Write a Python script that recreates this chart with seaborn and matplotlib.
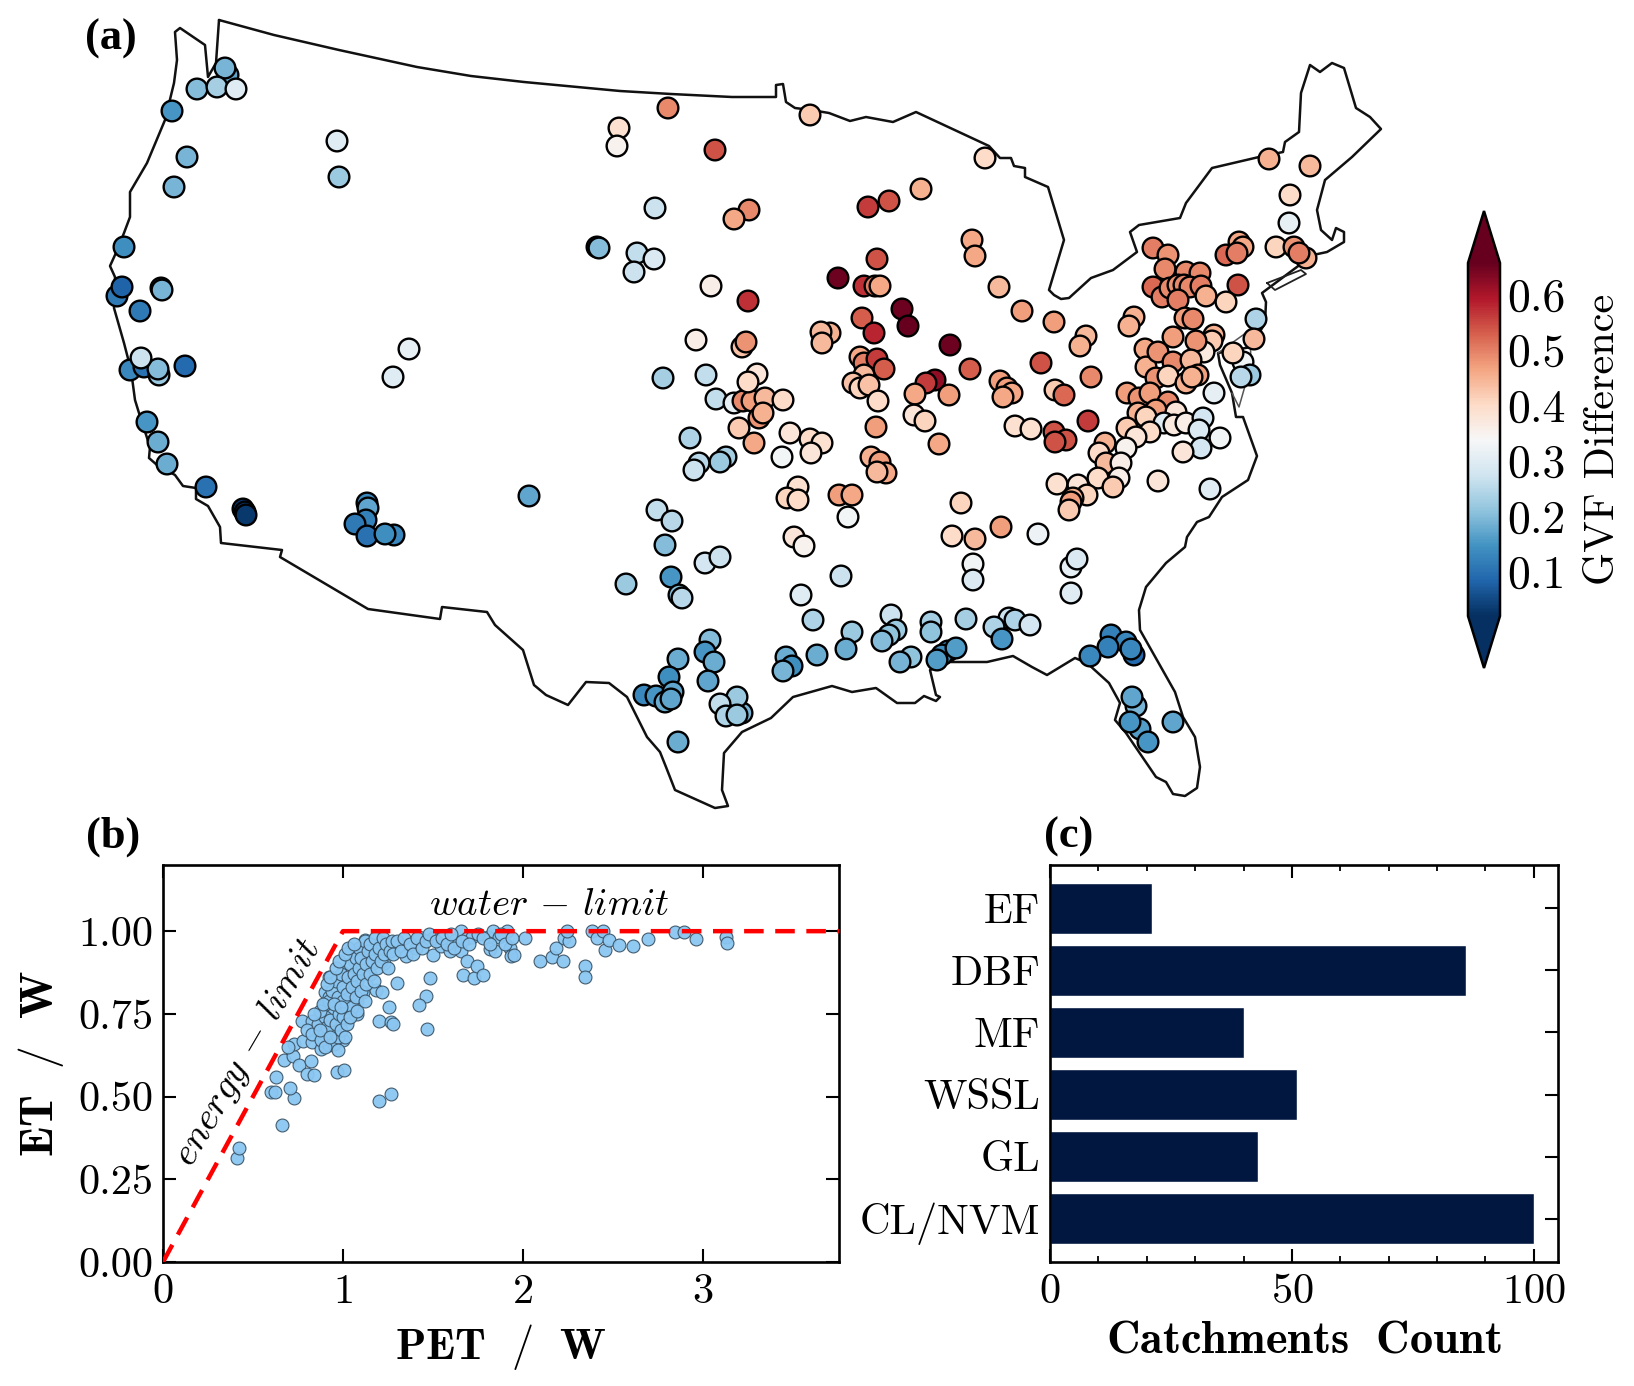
import numpy as np
import pandas as pd
import matplotlib
matplotlib.use('Agg')
import matplotlib.pyplot as plt
import seaborn as sns
from matplotlib.cm import ScalarMappable
from matplotlib.colors import Normalize
from matplotlib.ticker import FixedLocator

# map units: projected position
border_x = [219, 274, 339, 417, 471, 524, 620, 671, 732, 776, 776, 783, 786, 795, 811, 829, 850, 866, 893, 916, 989, 1000,
            1011, 1014, 1025, 1025, 1048, 1064, 1049, 1054, 1061, 1069, 1091, 1113, 1137, 1130, 1139, 1180, 1186, 1212, 1259, 1283,
            1285, 1299, 1301, 1310, 1320, 1332, 1344, 1356, 1370, 1381, 1352, 1325, 1317, 1321, 1332, 1336, 1344, 1344, 1327, 1313,
            1262, 1266, 1265, 1251, 1218, 1220, 1232, 1236, 1243, 1257, 1248, 1222, 1209, 1197, 1187, 1185, 1166, 1146, 1139, 1140,
            1175, 1183, 1195, 1200, 1197, 1185, 1173, 1166, 1156, 1126, 1115, 1120, 1109, 1087, 1075, 1047, 1032, 1013, 987, 950,
            930, 936, 940, 936, 924, 915, 897, 876, 852, 832, 793, 771, 742, 724, 722, 728, 715, 675, 666, 660,
            647, 627, 609, 586, 568, 546, 534, 523, 495, 487, 442, 440, 368, 280, 282, 221, 220, 208, 196, 196,
            183, 175, 157, 149, 150, 139, 135, 131, 124, 114, 115, 110, 115, 124, 130, 130, 147, 165, 174, 177,
            175, 180, 205, 208, 216, 219]
border_y = [20, 35, 50, 67, 76, 82, 91, 94, 97, 97, 85, 84, 102, 108, 110, 113, 121, 117, 122, 112, 146, 158,
            158, 166, 168, 177, 187, 240, 290, 295, 299, 298, 278, 270, 252, 232, 225, 218, 203, 168, 157, 152,
            142, 132, 93, 65, 72, 63, 68, 108, 117, 129, 157, 180, 210, 230, 240, 228, 232, 242, 252, 255,
            293, 302, 323, 347, 353, 365, 393, 417, 417, 456, 480, 497, 517, 522, 537, 547, 563, 587, 610, 630,
            692, 717, 737, 767, 788, 796, 794, 782, 777, 733, 720, 703, 683, 663, 658, 675, 667, 656, 662, 662,
            670, 695, 697, 701, 696, 703, 703, 688, 692, 686, 697, 718, 732, 753, 790, 806, 808, 790, 767, 752,
            737, 697, 683, 682, 705, 695, 685, 650, 625, 612, 607, 619, 609, 557, 550, 543, 527, 506, 499, 488,
            486, 475, 465, 458, 447, 413, 400, 370, 343, 308, 277, 266, 255, 233, 217, 192, 163, 120, 83, 60,
            32, 28, 45, 77, 63, 20]
island_x = [1267, 1301, 1306, 1275, 1267]
island_y = [283, 270, 274, 290, 283]
bay_x = [1218, 1250, 1251, 1239, 1232]
bay_y = [353, 330, 365, 407, 393]

site_x = [228, 225, 197, 217, 236, 172, 187, 174, 337, 339,
          597, 599, 124, 117, 122, 161, 162, 140, 185, 130,
          144, 159, 158, 141, 409, 393, 147, 158, 167, 206,
          243, 245, 246, 367, 368, 366, 355, 367, 394, 385,
          529, 657, 672, 665, 626, 671, 679, 682,
          668, 619, 617, 810, 715, 985, 921, 889, 868, 749,
          734, 655, 637, 654, 634, 972, 975, 877, 838, 864,
          875, 880, 711, 748, 999, 1022, 1054, 1134, 1129, 862,
          902, 908, 874, 950, 1086, 1080, 1041, 970, 1091, 830,
          821, 822, 696, 742, 746, 663, 706, 860, 864, 877,
          884, 864, 853, 860, 869, 878, 935, 926, 915, 949,
          1000, 1007, 1012, 1003, 1055, 1064, 1127, 1145, 1146, 1088,
          1015, 1031, 1054, 1066, 1055, 914, 925, 939, 876, 716,
          734, 743, 752, 757, 748, 765, 783, 759, 763, 739,
          754, 690, 790, 810, 822, 811, 782, 726, 720, 699,
          694, 871, 880, 886, 877, 1269, 1310, 1290, 1289, 1276,
          1294, 1306, 1299, 1153, 1168, 1239, 1243, 1226, 1237, 1165,
          1153, 1186, 1200, 1162, 1170, 1178, 1184, 1190, 1201, 1178,
          1206, 1238, 1226, 1256, 1254, 1243, 1233, 1250, 1241, 1214,
          1185, 1193, 1173, 1214, 1212, 1204, 1196, 1158, 1173, 1191,
          1156, 1168, 1186, 1198, 1192, 1139, 1150, 1168, 1156, 1138,
          1146, 1176, 1164, 1174, 1186, 1203, 1199, 1220, 1201, 1183,
          1150, 1127, 1136, 1126, 1105, 1099, 1106, 1121, 1098, 1119,
          1113, 1057, 1078, 1087, 1073, 1071, 1069, 1158, 1210, 961,
          1001, 952, 975, 1038, 1071, 1077, 973, 973, 1071, 798,
          787, 798, 839, 852, 848, 794, 804, 705, 720, 841,
          801, 813, 852, 891, 896, 889, 882, 931, 931, 966,
          1009, 1015, 994, 1030, 1002, 1111, 1126, 1134, 1108, 1131,
          1090, 948, 942, 956, 937, 911, 900, 846, 817, 786,
          792, 783, 710, 705, 714, 678, 708, 669, 644, 656,
          673, 665, 671, 742, 737, 720, 726, 737, 678, 1136,
          1132, 1140, 1130, 1148, 1173]
site_y = [75, 68, 89, 87, 89, 111, 157, 187, 141, 177,
          247, 248, 247, 296, 287, 288, 290, 311, 366, 370,
          367, 375, 369, 358, 349, 377, 422, 442, 464, 487,
          509, 512, 515, 503, 508, 520, 524, 536, 535, 534,
          496, 510, 521, 545, 584, 577, 595, 598,
          108, 128, 146, 115, 150, 158, 189, 201, 207, 210,
          219, 208, 253, 259, 272, 240, 256, 259, 278, 286,
          286, 286, 286, 301, 287, 311, 322, 317, 326, 318,
          309, 326, 333, 345, 336, 346, 363, 369, 377, 333,
          332, 343, 340, 347, 342, 378, 375, 357, 363, 359,
          369, 375, 383, 388, 385, 401, 380, 383, 394, 395,
          381, 388, 393, 397, 390, 395, 393, 349, 367, 421,
          426, 429, 432, 440, 442, 415, 421, 444, 427, 399,
          403, 401, 401, 374, 382, 398, 400, 418, 413, 428,
          443, 438, 433, 439, 443, 453, 457, 457, 462, 463,
          470, 457, 462, 473, 472, 159, 166, 195, 223, 247,
          247, 258, 253, 248, 255, 242, 247, 255, 253, 269,
          287, 272, 273, 297, 288, 285, 285, 287, 286, 300,
          296, 285, 302, 319, 339, 362, 353, 375, 377, 393,
          318, 319, 337, 335, 341, 352, 341, 352, 362, 360,
          378, 376, 383, 375, 377, 398, 393, 402, 410, 413,
          417, 412, 423, 425, 423, 418, 430, 438, 448, 452,
          432, 428, 437, 448, 443, 453, 463, 463, 478, 478,
          487, 484, 485, 495, 498, 502, 510, 481, 489, 503,
          527, 536, 539, 534, 567, 559, 564, 580, 593, 487,
          498, 500, 495, 495, 517, 537, 546, 563, 557, 576,
          595, 620, 632, 615, 630, 635, 641, 622, 632, 619,
          618, 620, 627, 625, 639, 635, 642, 655, 647, 649,
          656, 651, 655, 648, 660, 657, 662, 649, 655, 657,
          666, 671, 640, 652, 662, 659, 681, 677, 695, 696,
          692, 702, 699, 713, 697, 704, 716, 715, 742, 706,
          697, 729, 722, 742, 722]
site_gvf = [.17, .19, .2, .23, .3, .15, .19, .19, .3, .22,
            .05, .2, .14, .11, .08, .1, .19, .11, .09, .13,
            .1, .22, .2, .27, .31, .3, .15, .18, .18, .1,
            .03, .03, .03, .13, .17, .12, .11, .1, .13, .14,
            .17, .26, .25, .2, .22, .15, .2, .25,
            .49, .39, .35, .42, .54, .4, .45, .54, .56, .49,
            .46, .27, .26, .29, .27, .46, .46, .54, .65, .57,
            .5, .46, .36, .57, .44, .47, .47, .45, .45, .53,
            .65, .66, .58, .65, .44, .45, .54, .53, .49, .45,
            .44, .44, .36, .43, .48, .23, .26, .46, .5, .56,
            .53, .44, .43, .41, .43, .4, .62, .56, .46, .47,
            .47, .47, .46, .46, .42, .52, .47, .46, .45, .56,
            .39, .39, .54, .54, .54, .38, .41, .46, .47, .26,
            .31, .49, .47, .38, .4, .44, .4, .48, .45, .42,
            .46, .24, .38, .4, .39, .38, .33, .23, .22, .25,
            .27, .45, .47, .46, .44, .45, .44, .4, .31, .41,
            .48, .45, .5, .5, .48, .46, .46, .52, .5, .49,
            .52, .49, .49, .5, .49, .48, .49, .49, .5, .5,
            .45, .54, .41, .24, .44, .33, .41, .22, .25, .31,
            .47, .49, .47, .45, .42, .37, .48, .48, .49, .44,
            .48, .41, .45, .47, .45, .48, .47, .49, .47, .45,
            .41, .38, .3, .37, .36, .28, .29, .33, .28, .38,
            .4, .42, .38, .35, .45, .4, .44, .36, .4, .36,
            .42, .39, .38, .41, .45, .47, .42, .38, .3, .41,
            .47, .4, .44, .32, .31, .29, .33, .29, .3, .39,
            .41, .4, .47, .46, .33, .38, .35, .28, .27, .27,
            .3, .24, .22, .27, .22, .21, .2, .23, .21, .23,
            .27, .24, .24, .28, .15, .12, .13, .09, .12, .13,
            .13, .14, .14, .16, .16, .21, .19, .18, .18, .18,
            .14, .19, .2, .15, .18, .18, .17, .14, .13, .15,
            .17, .18, .17, .19, .22, .26, .24, .22, .18, .19,
            .17, .16, .15, .15, .17]

pet = [.41, .425, .66, .73, .705, .6, .62, .626, .675, .72, .757, .82, .8, .84, .965, 1.005, 1.2, 1.265,
       .73, .696, .77, .827, .778, .85, .83, .88, .92, 1.0, .918, .955, .894, .99, .94, .894, .9, .924,
       1.076, 1.03, .985, 1.076, 1.045, 1.11, 1.045, .985, .924, 1.0, 1.076, 1.137, 1.06, 1.167, 1.228, 1.106, 1.045, 1.12,
       1.213, 1.198, 1.304, 1.35, 1.404, 1.425, 1.5, 1.5, 1.547, 1.593, 1.623, 1.654, 1.654, 1.69, 1.69, 1.669, 1.73, 1.745,
       1.78, 1.72, 1.805, 1.815, 1.845, 1.836, 1.912, 1.866, 1.927, 1.933, 1.95, 2.01, 2.094, 2.164, 2.185, 2.222, 2.23, 2.255,
       2.246, 2.383, 2.343, 2.343, 2.413, 2.444, 2.459, 2.48, 2.535, 2.61, 2.693, 2.845, 2.893, 2.964, 3.13, 3.134,
       1.182, 1.219, 1.298, 1.486, 1.462, 1.42, 1.465, 1.258, 1.198, 1.265, 1.277,
       .8, .83, .86, .88, .9, .91, .93, .95, .96, .97, .98, .99, 1.0, 1.01, 1.02, .92, .94, .96,
       .97, .99, 1.0, 1.0, 1.02, 1.03, 1.04, 1.05, 1.05, 1.06, 1.07, 1.07, 1.08, 1.09, 1.09, 1.1, 1.1, 1.11,
       1.12, 1.13, 1.13, 1.14, 1.15, 1.15, 1.16, 1.17, 1.18, 1.18, 1.19, 1.2, 1.21, 1.22, 1.23, 1.24, 1.25, 1.26,
       1.27, 1.28, 1.3, 1.32, 1.34, 1.37, 1.39, 1.41, 1.44, 1.46, 1.48, 1.52, 1.55, 1.58, 1.6, 1.62, 1.66, 1.7,
       1.75, 1.78, 1.82, 1.88, 1.9, 1.94, .87, .89, .91, .93, .95, .96, .98, 1.01, 1.03, 1.06, .84, .87,
       .9, .93, .97, .99, 1.02, 1.04, 1.08, 1.12]
et = [.315, .345, .413, .495, .527, .513, .515, .56, .61, .624, .594, .608, .568, .566, .575, .579, .488, .508,
      .66, .65, .727, .727, .668, .694, .666, .644, .655, .672, .7, .694, .688, .727, .76, .777, .816, .8,
      .75, .738, .783, .79, .81, .816, .844, .844, .86, .877, .883, .877, .91, .905, .905, .944, .944, .972,
      .967, .939, .955, .924, .95, .983, .928, .978, .955, .939, .972, 1.0, .939, .978, .911, .866, .857, .894,
      .866, .983, .983, .947, .939, 1.0, 1.0, .983, .95, .924, .928, .978, .911, .922, .95, .911, .978, .969,
      1.0, 1.0, .896, .861, .978, 1.0, .944, .972, .958, .955, .975, .997, .997, .975, .981, .964,
      .822, .816, .844, .857, .803, .777, .705, .77, .727, .724, .718,
      .70, .69, .72, .67, .74, .71, .73, .66, .72, .68, .75, .70, .74, .68, .77, .79, .82, .85,
      .80, .87, .83, .79, .81, .86, .90, .77, .83, .87, .92, .80, .85, .89, .95, .82, .92, .87,
      .97, .84, .90, .94, .87, .96, .91, .85, .93, .98, .89, .95, .91, .98, .93, .96, .89, .94,
      .97, .93, .97, .94, .98, .96, .93, .98, .95, .97, .99, .97, .98, .96, .99, .95, .97, .96,
      .99, .98, .96, .99, .96, .98, .76, .78, .84, .86, .78, .89, .91, .93, .95, .96, .75, .70,
      .65, .68, .64, .77, .72, .74, .76, .79]

# budyko limits
limit_pet = [0, 1, 3.76]
limit_et = [0, 1, 1]

cover_types = ['EF', 'DBF', 'MF', 'WSSL', 'GL', 'CL/NVM']
cover_counts = [21, 86, 40, 51, 43, 100]

gvf_ticks = [0.1, 0.2, 0.3, 0.4, 0.5, 0.6]

W, H = 1634, 1386


def px_axes(left, top, right, bottom):
    return fig.add_axes([left / W, 1 - bottom / H, (right - left) / W, (bottom - top) / H])


sns.set_theme(style='ticks', rc={
    'text.color': 'black', 'axes.labelcolor': 'black', 'axes.edgecolor': 'black',
    'xtick.color': 'black', 'ytick.color': 'black',
    'axes.linewidth': 1.9,
    'xtick.direction': 'in', 'ytick.direction': 'in',
    'xtick.major.size': 9.5, 'ytick.major.size': 9.5,
    'xtick.major.width': 1.5, 'ytick.major.width': 1.5,
    'xtick.minor.size': 4.5, 'xtick.minor.width': 1.3,
    'xtick.top': True, 'ytick.right': True,
    'axes.formatter.use_mathtext': True,
    'mathtext.fontset': 'cm',
})
plt.rcParams['font.family'] = 'cmr10'

fig = plt.figure(figsize=(W / 100, H / 100), dpi=100)

# (a) map
ax_map = fig.add_axes([0, 0, 1, 1])
ax_map.plot(border_x, border_y, color='#111111', lw=1.8, solid_joinstyle='round')
ax_map.plot(island_x, island_y, color='#222222', lw=1.3)
ax_map.plot(bay_x, bay_y, color='#555555', lw=1.1)

sites = pd.DataFrame({'x': site_x, 'y': site_y, 'gvf': site_gvf})
norm = Normalize(vmin=0.02, vmax=0.656)
sns.scatterplot(data=sites, x='x', y='y', hue='gvf', hue_norm=norm, palette='RdBu_r',
                s=222, edgecolor='black', linewidth=1.7, legend=False, ax=ax_map, zorder=3)
ax_map.set_xlim(0, W)
ax_map.set_ylim(H, 0)
ax_map.axis('off')

# extend tips sit inside the cax box
cax = px_axes(1468, 211, 1500, 668)
sm = ScalarMappable(norm=norm, cmap='RdBu_r')
cbar = fig.colorbar(sm, cax=cax, extend='both', extendfrac=0.147, ticks=gvf_ticks)
cbar.outline.set_linewidth(1.8)
cbar.ax.set_yticklabels(['%.1f' % t for t in gvf_ticks])
cbar.ax.tick_params(axis='y', direction='in', length=13, width=1.5, right=True, left=False,
                    labelsize=33, pad=5)
cbar.set_label('GVF Difference', fontsize=30.5, labelpad=14)

# (b) budyko scatter
ax_b = px_axes(163, 865, 839, 1262)
sns.scatterplot(x=pet, y=et, s=86, color='#8ac6f1', edgecolor='#3c5568', linewidth=0.8, alpha=0.95,
                ax=ax_b, zorder=2, clip_on=False)
sns.lineplot(x=limit_pet, y=limit_et, color='red', lw=3.2, ax=ax_b, zorder=3, errorbar=None, sort=False,
             linestyle=(0, (4.4, 2.6)))
ax_b.set_xlim(0, 3.757)
ax_b.set_ylim(0, 1.2)
ax_b.set_xticks([0, 1, 2, 3])
ax_b.set_yticks([0, 0.25, 0.5, 0.75, 1.0])
ax_b.set_yticklabels(['0.00', '0.25', '0.50', '0.75', '1.00'])
ax_b.tick_params(labelsize=30.5, pad=8)
ax_b.tick_params(axis='y', pad=7)
ax_b.set_xlabel(r'$\mathbf{PET\ \ /\ \ W}$', fontsize=32, labelpad=8)
ax_b.set_ylabel(r'$\mathbf{ET\ \ /\ \ W}$', fontsize=33, labelpad=9)
ax_b.text(2.147, 1.08, r'$water\,-\,limit$', fontsize=28, ha='center', va='center')
ax_b.text(0.47, 0.633, r'$energy\,-\,limit$', fontsize=28, ha='center', va='center',
          rotation=59.6, rotation_mode='anchor')

# (c) land cover counts
ax_c = px_axes(1050, 865, 1558, 1262)
sns.barplot(y=cover_types, x=cover_counts, color='#02173f', saturation=1, width=0.83, ax=ax_c, orient='h')
ax_c.set_xlim(0, 105)
ax_c.set_ylim(5.7, -0.7)
ax_c.set_xticks([0, 50, 100])
ax_c.xaxis.set_minor_locator(FixedLocator(np.arange(10, 101, 10)))
ax_c.tick_params(labelsize=30.5, pad=8)
ax_c.tick_params(axis='y', pad=7)
ax_c.tick_params(axis='x', which='minor', top=True, bottom=True)
ax_c.set_ylabel('')
ax_c.set_xlabel(r'$\mathbf{Catchments\ \ Count}$', fontsize=33.4, labelpad=7)

# panel letters
for label, x, y in [('(a)', 85, 50), ('(b)', 86, 848), ('(c)', 1044, 848)]:
    fig.text(x / W, 1 - y / H, label, fontsize=32, fontweight='bold', family='Liberation Serif', va='baseline')

fig.savefig('out.png', dpi=100)
